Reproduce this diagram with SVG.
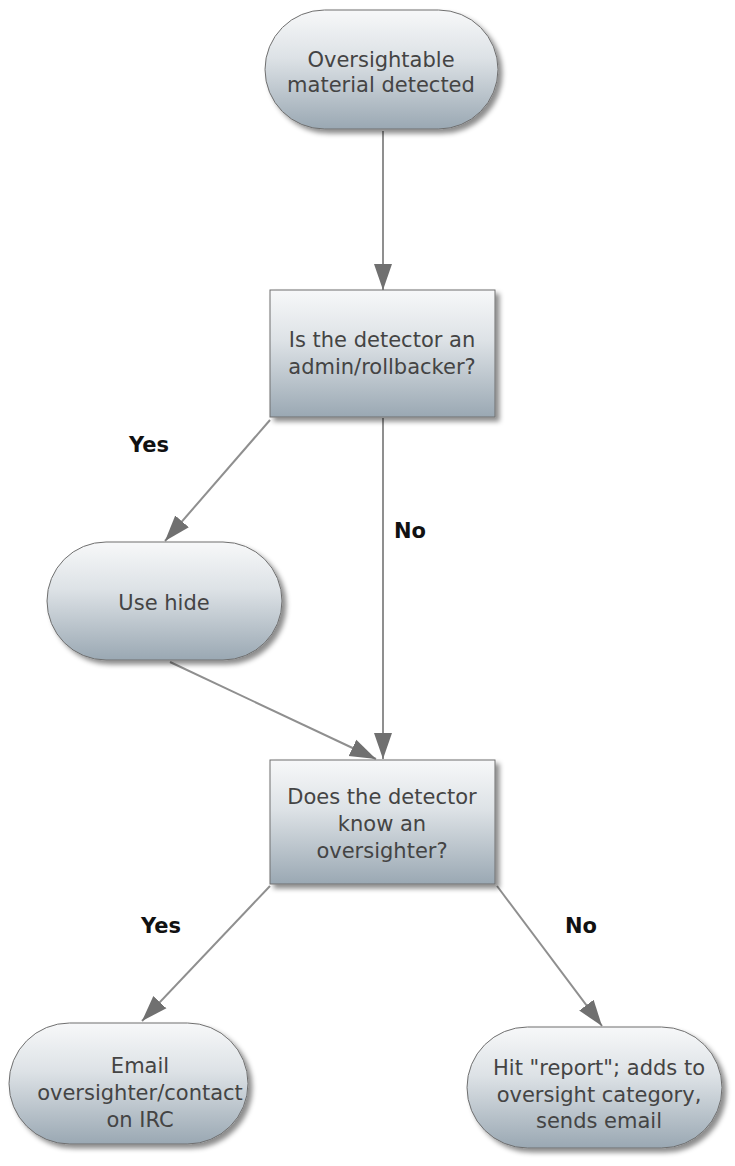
<svg xmlns="http://www.w3.org/2000/svg" width="735" height="1166" viewBox="0 0 735 1166">
<style>
.node{stroke:#6f6f6f;stroke-width:1;fill:url(#g);filter:url(#sh)}
.t{font-family:"DejaVu Sans",Verdana,sans-serif;font-size:21px;fill:#444;text-anchor:middle}
.lbl{font-family:"DejaVu Sans",Verdana,sans-serif;font-size:21px;font-weight:bold;fill:#111;text-anchor:middle}
.c{stroke:#8f8f8f;stroke-width:2;fill:none;marker-end:url(#ah)}
</style>
<defs>
<linearGradient id="g" x1="0" y1="0" x2="0" y2="1">
<stop offset="0" stop-color="#f7f8f9"/>
<stop offset="0.4" stop-color="#dde2e6"/>
<stop offset="1" stop-color="#9aa8b3"/>
</linearGradient>
<filter id="sh" x="-10%" y="-10%" width="130%" height="130%">
<feDropShadow dx="4" dy="4" stdDeviation="2.5" flood-color="#000" flood-opacity="0.45"/>
</filter>
<marker id="ah" markerUnits="userSpaceOnUse" markerWidth="27" markerHeight="20" refX="26" refY="10" orient="auto">
<path d="M0,1 L26,10 L0,19 z" fill="#707070"/>
</marker>
</defs>
<g id="connectors">
<line class="c" x1="383" y1="131" x2="383" y2="290"/>
<line class="c" x1="270" y1="420" x2="165" y2="541"/>
<line class="c" x1="383" y1="418" x2="383" y2="759"/>
<line class="c" x1="170" y1="662" x2="376" y2="759"/>
<line class="c" x1="270" y1="886" x2="142" y2="1021"/>
<line class="c" x1="497" y1="886" x2="602" y2="1026"/>
<text class="lbl" x="149" y="452">Yes</text>
<text class="lbl" x="410" y="538">No</text>
<text class="lbl" x="161" y="933">Yes</text>
<text class="lbl" x="581" y="933">No</text>
</g>
<g id="n1">
<rect class="node" x="265" y="10" width="233" height="119" rx="59.5" ry="59.5"/>
<text class="t" x="381" y="67">Oversightable</text>
<text class="t" x="381" y="92">material detected</text>
</g>
<g id="n2">
<rect class="node" x="270" y="290" width="225" height="127"/>
<text class="t" x="382" y="347">Is the detector an</text>
<text class="t" x="382" y="374">admin/rollbacker?</text>
</g>
<g id="n3">
<rect class="node" x="47" y="542" width="235" height="118" rx="59" ry="59"/>
<text class="t" x="164" y="610">Use hide</text>
</g>
<g id="n4">
<rect class="node" x="270" y="760" width="225" height="124"/>
<text class="t" x="382" y="804">Does the detector</text>
<text class="t" x="382" y="831">know an</text>
<text class="t" x="382" y="858">oversighter?</text>
</g>
<g id="n5">
<rect class="node" x="9" y="1023" width="239" height="121" rx="60.5" ry="60.5"/>
<text class="t" x="140" y="1073">Email</text>
<text class="t" x="140" y="1100">oversighter/contact</text>
<text class="t" x="140" y="1127">on IRC</text>
</g>
<g id="n6">
<rect class="node" x="467" y="1027" width="255" height="121" rx="60.5" ry="60.5"/>
<text class="t" x="599" y="1075">Hit "report"; adds to</text>
<text class="t" x="599" y="1102">oversight category,</text>
<text class="t" x="599" y="1128">sends email</text>
</g>
</svg>
